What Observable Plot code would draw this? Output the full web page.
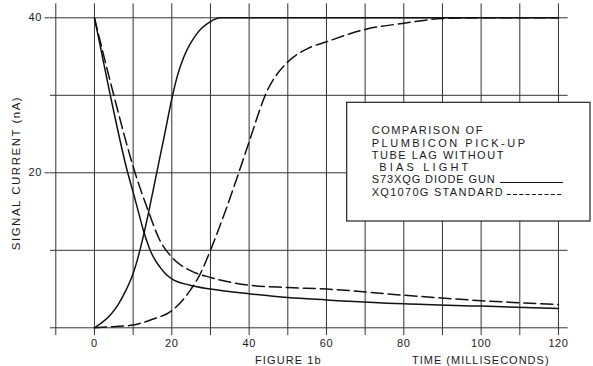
<!DOCTYPE html>
<html><head><meta charset="utf-8">
<script src="https://cdn.jsdelivr.net/npm/d3@7"></script>
<script src="https://cdn.jsdelivr.net/npm/@observablehq/plot@0.6"></script>
<style>html,body{margin:0;padding:0;background:#fff} svg{display:block}</style>
</head><body><div id="chart"></div>
<script>
// grid and tick values
const xGrid = [-10, 0, 10, 20, 30, 40, 50, 60, 70, 80, 90, 100, 110, 120];
const yGrid = [0, 10, 20, 30, 40];
const xTickLabels = [0, 20, 40, 60, 80, 100, 120];
const yTickLabels = [20, 40];

// S73XQG diode gun (solid): [time ms, signal nA]
const diodeRise = [[0,0],[2,0.7],[4,1.6],[6,2.9],[8,4.7],[10,7],[11,8.6],[12,10.5],[13,12.6],[14,14.9],[16.1,20],[18,24.6],[20.2,30],[21.5,32.6],[23,34.8],[26.4,37.9],[30,39.5],[32.5,40],[40,40],[60,40],[80,40],[100,40],[120,40]];
const diodeDecay = [[0,40],[4.1,30],[8.6,20],[10,17.5],[11.5,14.7],[12.7,12.5],[13.6,11.1],[14.4,10],[15.5,8.9],[17,7.8],[18.5,6.9],[20,6.3],[24.7,5.5],[30,5.0],[40,4.4],[50,3.9],[60,3.6],[80,3.1],[100,2.8],[120,2.5]];

// XQ1070G standard (dashed)
const standardRise = [[0,0],[5,0.15],[10,0.35],[12,0.6],[15,1.1],[20,2.2],[24.7,4.8],[27.3,6.9],[30,10],[33.3,14.3],[36.9,19.4],[40,24],[44.5,30.4],[50,34.3],[55,36],[60,36.9],[70,38.5],[80,39.3],[90,39.9],[100,40],[120,40]];
const standardDecay = [[0,40],[5,30],[10.5,20],[13.9,15.1],[16.9,11.3],[20,9.1],[24.7,7.4],[30,6.5],[40,5.5],[50,5.2],[60,5.0],[80,4.2],[100,3.5],[120,3.0]];

const legendLines = ["COMPARISON OF", "PLUMBICON PICK-UP", "TUBE LAG WITHOUT", "BIAS LIGHT", "S73XQG DIODE GUN", "XQ1070G STANDARD"];
const legendIndent = [0, 0, 0, 7.6, 0, 0];
const legendWidths = [110.7, 153.3, 131.7, 89, 123, 131];

const ink = "#1a1a1a";
const lineOpts = {x: d => d[0], y: d => d[1], curve: "monotone-x", stroke: "#111", strokeWidth: 1.5};
const dashed = {...lineOpts, strokeDasharray: "12,5"};

const chart = Plot.plot({
  width: 593, height: 366,
  marginLeft: 49.5, marginRight: 27.3, marginTop: 17.3, marginBottom: 38.7,
  x: {domain: [-11.5, 122], axis: null},
  y: {domain: [0, 40], axis: null},
  style: {fontFamily: "'Liberation Sans', Arial, sans-serif", background: "#fff", color: ink},
  marks: [
    Plot.ruleX(xGrid, {x: d => d, y1: -1, y2: 41.8, stroke: "#333", strokeWidth: 1}),
    Plot.ruleY(yGrid, {y: d => d, x1: -11.4, x2: 122.5, stroke: "#333", strokeWidth: 1}),
    Plot.axisY(yTickLabels, {tickSize: 5, tickPadding: 3, fontSize: 11, label: null, stroke: "#333"}),
    Plot.axisX(xTickLabels, {tickSize: 0, tickPadding: 11, fontSize: 11, label: null}),
    Plot.line(diodeRise, lineOpts),
    Plot.line(diodeDecay, lineOpts),
    Plot.line(standardRise, dashed),
    Plot.line(standardDecay, dashed)
  ]
});
document.getElementById("chart").appendChild(chart);

const svg = d3.select(chart);
svg.selectAll("g[aria-label='x-axis tick label'] text, g[aria-label='y-axis tick label'] text").attr("letter-spacing", "0.6px");

// axis titles
svg.append("text").attr("transform", "translate(20,173) rotate(-90)")
  .attr("text-anchor", "middle").attr("font-size", 11.5).attr("letter-spacing", "1.5px")
  .attr("fill", ink).text("SIGNAL CURRENT (nA)");
svg.append("text").attr("x", 255).attr("y", 364).attr("text-anchor", "start").attr("font-size", 11).attr("letter-spacing", "1.1px")
  .attr("fill", ink).text("FIGURE 1b");
svg.append("text").attr("x", 412).attr("y", 364).attr("text-anchor", "start").attr("font-size", 11).attr("letter-spacing", "1px")
  .attr("fill", ink).text("TIME (MILLISECONDS)");

// legend box
const lg = svg.append("g");
lg.append("rect").attr("x", 346.7).attr("y", 102.3).attr("width", 243.3).attr("height", 118.7)
  .attr("fill", "#fff").attr("stroke", "#222").attr("stroke-width", 1.2);
const baselines = [134.3, 146.7, 159, 171.2, 183.4, 195.7];
legendLines.forEach((t, i) => {
  lg.append("text").attr("x", 371.7 + legendIndent[i]).attr("y", baselines[i]).attr("font-size", 11)
    .attr("text-anchor", "start").attr("textLength", legendWidths[i]).attr("lengthAdjust", "spacing")
    .attr("fill", ink).text(t);
});
lg.append("line").attr("x1", 500).attr("x2", 563).attr("y1", 182.5).attr("y2", 182.5)
  .attr("stroke", "#111").attr("stroke-width", 1.2);
lg.append("line").attr("x1", 506.7).attr("x2", 563).attr("y1", 194.5).attr("y2", 194.5)
  .attr("stroke", "#111").attr("stroke-width", 1.2).attr("stroke-dasharray", "4,2.3");
</script>
</body></html>
